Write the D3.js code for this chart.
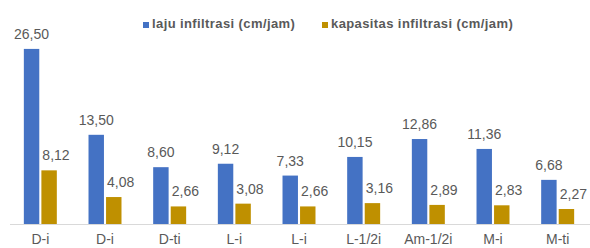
<!DOCTYPE html>
<html>
<head>
<meta charset="utf-8">
<script src="https://cdn.jsdelivr.net/npm/d3@7"></script>
<style>
  body { margin: 0; background: #fff; }
  text { font-family: "Liberation Sans", Arial, sans-serif; fill: #595959; }
</style>
</head>
<body>
<div id="chart"></div>
<script>
// chart data
var categories = ["D-i", "D-i", "D-ti", "L-i", "L-i", "L-1/2i", "Am-1/2i", "M-i", "M-ti"];
var laju = [26.50, 13.50, 8.60, 9.12, 7.33, 10.15, 12.86, 11.36, 6.68];
var kapasitas = [8.12, 4.08, 2.66, 3.08, 2.66, 3.16, 2.89, 2.83, 2.27];
var seriesNames = ["laju infiltrasi (cm/jam)", "kapasitas infiltrasi (cm/jam)"];
var seriesColors = ["#4472C4", "#BF9000"];

var svgWidth = 590;
var svgHeight = 248;
var baseline = 224;

var svg = d3.select("#chart")
  .append("svg")
  .attr("width", svgWidth)
  .attr("height", svgHeight);

// rows built from the arrays, index keeps duplicate category names apart
var rows = categories.map(function(c, i) {
  return { idx: i, cat: c, values: [laju[i], kapasitas[i]] };
});

// scales
var x0 = d3.scaleBand()
  .domain(d3.range(categories.length))
  .range([8, 590])
  .paddingInner(0.49)
  .paddingOuter(0.245);

var x1 = d3.scaleBand()
  .domain([0, 1])
  .range([0, x0.bandwidth()])
  .paddingInner(0.12);

var y = d3.scaleLinear()
  .domain([0, 28])
  .range([baseline, 39]);

// baseline axis line
svg.append("line")
  .attr("x1", 10)
  .attr("x2", 590)
  .attr("y1", baseline + 0.5)
  .attr("y2", baseline + 0.5)
  .attr("stroke", "#d9d9d9")
  .attr("stroke-width", 1);

var groups = svg.selectAll("g.grp")
  .data(rows)
  .enter()
  .append("g")
  .attr("class", "grp")
  .attr("transform", d => `translate(${x0(d.idx)},0)`);

// bars
groups.selectAll("rect")
  .data(d => d.values.map((v, k) => ({ k: k, v: v })))
  .enter()
  .append("rect")
  .attr("x", d => x1(d.k))
  .attr("width", x1.bandwidth())
  .attr("y", d => y(d.v))
  .attr("height", d => baseline - y(d.v))
  .attr("fill", d => seriesColors[d.k]);

// value labels
groups.selectAll("text.val")
  .data(d => d.values.map((v, k) => ({ k: k, v: v })))
  .enter()
  .append("text")
  .attr("class", "val")
  .attr("x", d => d.k === 0 ? x1(d.k) + x1.bandwidth() / 2 : x1(d.k) + 1)
  .attr("y", d => y(d.v) - 10)
  .attr("text-anchor", d => d.k === 0 ? "middle" : "start")
  .style("font-size", "14px")
  .text(d => d.v.toFixed(2).replace(".", ","));

// category labels
svg.selectAll("text.cat")
  .data(rows)
  .enter()
  .append("text")
  .attr("class", "cat")
  .attr("x", d => x0(d.idx) + x0.bandwidth() / 2)
  .attr("y", 244)
  .attr("text-anchor", "middle")
  .style("font-size", "14px")
  .text(d => d.cat);

// legend
var legendX = [143, 322];
var legend = svg.selectAll("g.legend")
  .data(seriesNames)
  .enter()
  .append("g")
  .attr("class", "legend")
  .attr("transform", (d, i) => `translate(${legendX[i]}, 20)`);

legend.append("rect")
  .attr("x", 0)
  .attr("y", 2)
  .attr("width", 6)
  .attr("height", 6)
  .attr("fill", (d, i) => seriesColors[i]);

legend.append("text")
  .attr("x", 9)
  .attr("y", 8)
  .style("font-size", "13px")
  .style("font-weight", "bold")
  .style("letter-spacing", "0.4px")
  .text(d => d);
</script>
</body>
</html>
